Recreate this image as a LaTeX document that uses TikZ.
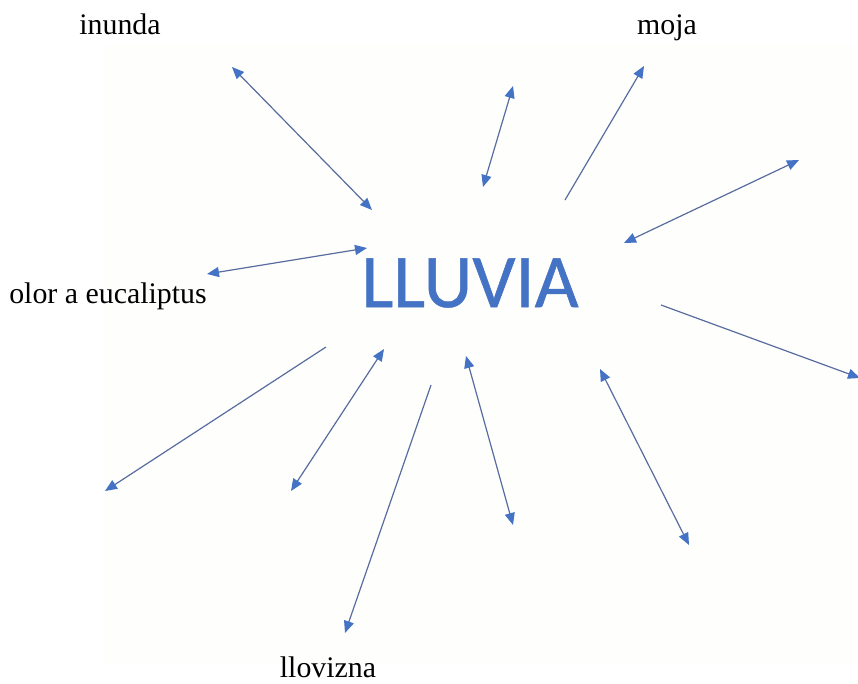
\documentclass[tikz,border=0pt]{standalone}
\usepackage{fontspec}
\setmainfont{Liberation Serif}
\newfontfamily\lluviafont[FakeBold=0.6]{Carlito}
\usepackage{xcolor}
\usetikzlibrary{arrows.meta}
\definecolor{azul}{RGB}{68,114,196}
\definecolor{linea}{RGB}{88,108,160}
\definecolor{fondo}{RGB}{254,254,252}

\begin{document}
\begin{tikzpicture}[x=0.75pt, y=-0.75pt,
    >={Triangle[length=9pt, width=7.5pt, color=azul]},
    flecha/.style={linea, line width=0.9pt},
    palabra/.style={font=\fontsize{22.4}{26}\selectfont, inner sep=0pt, anchor=base}]
    \useasboundingbox (0,0) rectangle (858,683);
    \fill[fondo] (105,45) rectangle (858,665);

    % 1. Palabra central y etiquetas
    \node[text=azul, inner sep=0pt, font=\lluviafont\fontsize{57}{60}\selectfont] (lluvia) at (470,283) {LLUVIA};
    \node[palabra] (inunda) at (120,34) {inunda};
    \node[palabra] (moja) at (667,34) {moja};
    \node[palabra] (olor) at (108,303) {olor a eucaliptus};
    \node[palabra] (llovizna) at (328,677) {llovizna};

    % 2. Extremos de las flechas
    \coordinate (a1) at (232,67);  \coordinate (b1) at (372,210);
    \coordinate (a2) at (513,86);  \coordinate (b2) at (483,187);
    \coordinate (a3) at (565,200); \coordinate (b3) at (644,66);
    \coordinate (a4) at (799,160); \coordinate (b4) at (624,243);
    \coordinate (a5) at (661,305); \coordinate (b5) at (860,378);
    \coordinate (a6) at (207,274); \coordinate (b6) at (367,248);
    \coordinate (a7) at (326,347); \coordinate (b7) at (105,491);
    \coordinate (a8) at (384,349); \coordinate (b8) at (291,491);
    \coordinate (a9) at (431,385); \coordinate (b9) at (345,633);
    \coordinate (a10) at (466,356); \coordinate (b10) at (513,525);
    \coordinate (a11) at (600,369); \coordinate (b11) at (689,545);

    % 3. Flechas dobles
    \foreach \p in {1,2,4,6,8,10,11} {
        \draw[flecha, <->] (a\p) -- (b\p);
    }
    % 4. Flechas simples
    \foreach \p in {3,5,7,9} {
        \draw[flecha, ->] (a\p) -- (b\p);
    }
\end{tikzpicture}
\end{document}
